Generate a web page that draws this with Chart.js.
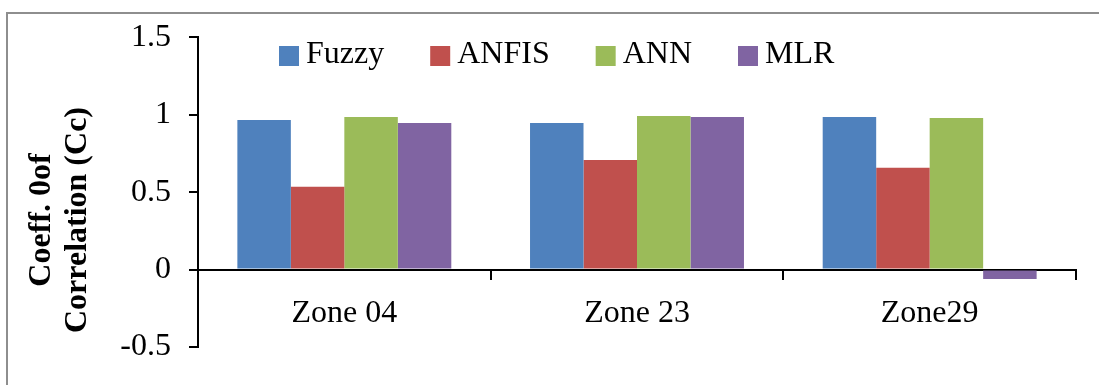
<!DOCTYPE html>
<html>
<head>
<meta charset="utf-8">
<script src="https://cdn.jsdelivr.net/npm/chart.js@4.4.1/dist/chart.umd.min.js"></script>
<style>
  html, body { margin: 0; padding: 0; background: #fff; }
</style>
</head>
<body>
<canvas id="myChart" width="1099" height="385"></canvas>
<script>
// categories and series
const zones = ['Zone 04', 'Zone 23', 'Zone29'];
const fuzzy = [0.965, 0.946, 0.985];
const anfis = [0.535, 0.708, 0.657];
const ann = [0.985, 0.991, 0.978];
const mlr = [0.946, 0.985, -0.061];
const yTicks = [-0.5, 0, 0.5, 1, 1.5];
const yTitle = ['Coeff. 0of', 'Correlation (Cc)'];

const FONT = '"Liberation Serif", "Times New Roman", serif';

// frame, legend and the two-line axis title are painted by hand
const decorations = {
  id: 'decorations',
  beforeDraw(chart) {
    const ctx = chart.ctx;
    ctx.save();
    ctx.fillStyle = '#fff';
    ctx.fillRect(0, 0, chart.width, chart.height);
    ctx.fillStyle = '#8e8e8e';
    ctx.fillRect(6, 12, 2, chart.height - 12);
    ctx.fillRect(6, 12, chart.width - 6, 2);
    ctx.restore();
  },
  afterDraw(chart) {
    const ctx = chart.ctx;
    ctx.save();
    ctx.font = '32px ' + FONT;
    ctx.textBaseline = 'alphabetic';
    let x = chart.chartArea.left + 81;
    chart.data.datasets.forEach(ds => {
      ctx.fillStyle = ds.backgroundColor;
      ctx.fillRect(x, 46, 20, 20);
      ctx.fillStyle = '#000';
      ctx.fillText(ds.label, x + 27, 63);
      x += 27 + ctx.measureText(ds.label).width + 46;
    });

    ctx.font = 'bold 32px ' + FONT;
    ctx.textAlign = 'center';
    [50, 86].forEach((bx, i) => {
      ctx.save();
      ctx.translate(bx, 220);
      ctx.rotate(-Math.PI / 2);
      ctx.fillText(yTitle[i], 0, 0);
      ctx.restore();
    });
    ctx.restore();
  }
};

const bar = (label, data, color) => ({
  label: label,
  data: data,
  backgroundColor: color,
  borderWidth: 0,
  categoryPercentage: 0.731,
  barPercentage: 1
});

const ctx = document.getElementById('myChart').getContext('2d');

// eslint-disable-next-line no-unused-vars,no-undef
const chart = new Chart(ctx, {
  type: 'bar',
  data: {
    labels: zones,
    datasets: [
      bar('Fuzzy', fuzzy, '#4F81BD'),
      bar('ANFIS', anfis, '#C0504D'),
      bar('ANN', ann, '#9BBB59'),
      bar('MLR', mlr, '#8064A2')
    ]
  },
  options: {
    responsive: false,
    animation: false,
    layout: { padding: { top: 36, right: 23, bottom: 38, left: 0 } },
    plugins: {
      legend: { display: false },
      tooltip: { enabled: false }
    },
    scales: {
      x: {
        position: { y: 0 },
        afterFit(scale) { scale.height = 0; },
        grid: {
          drawOnChartArea: false,
          drawTicks: true,
          tickLength: 9,
          color: '#000',
          lineWidth: 2,
          offset: true
        },
        border: { display: true, color: '#000', width: 2 },
        ticks: {
          color: '#000',
          font: { family: FONT, size: 32 },
          padding: 16,
          maxRotation: 0,
          autoSkip: false
        }
      },
      y: {
        min: -0.5,
        max: 1.5,
        afterFit(scale) { scale.width = 198; },
        afterBuildTicks(scale) {
          scale.ticks = yTicks.map(v => ({ value: v }));
        },
        grid: {
          drawOnChartArea: false,
          drawTicks: true,
          tickLength: 9,
          color: '#000',
          lineWidth: 2
        },
        border: { display: true, color: '#000', width: 2 },
        ticks: {
          color: '#000',
          font: { family: FONT, size: 32 },
          padding: 18,
          callback: v => String(v)
        }
      }
    }
  },
  plugins: [decorations]
});
</script>
</body>
</html>
